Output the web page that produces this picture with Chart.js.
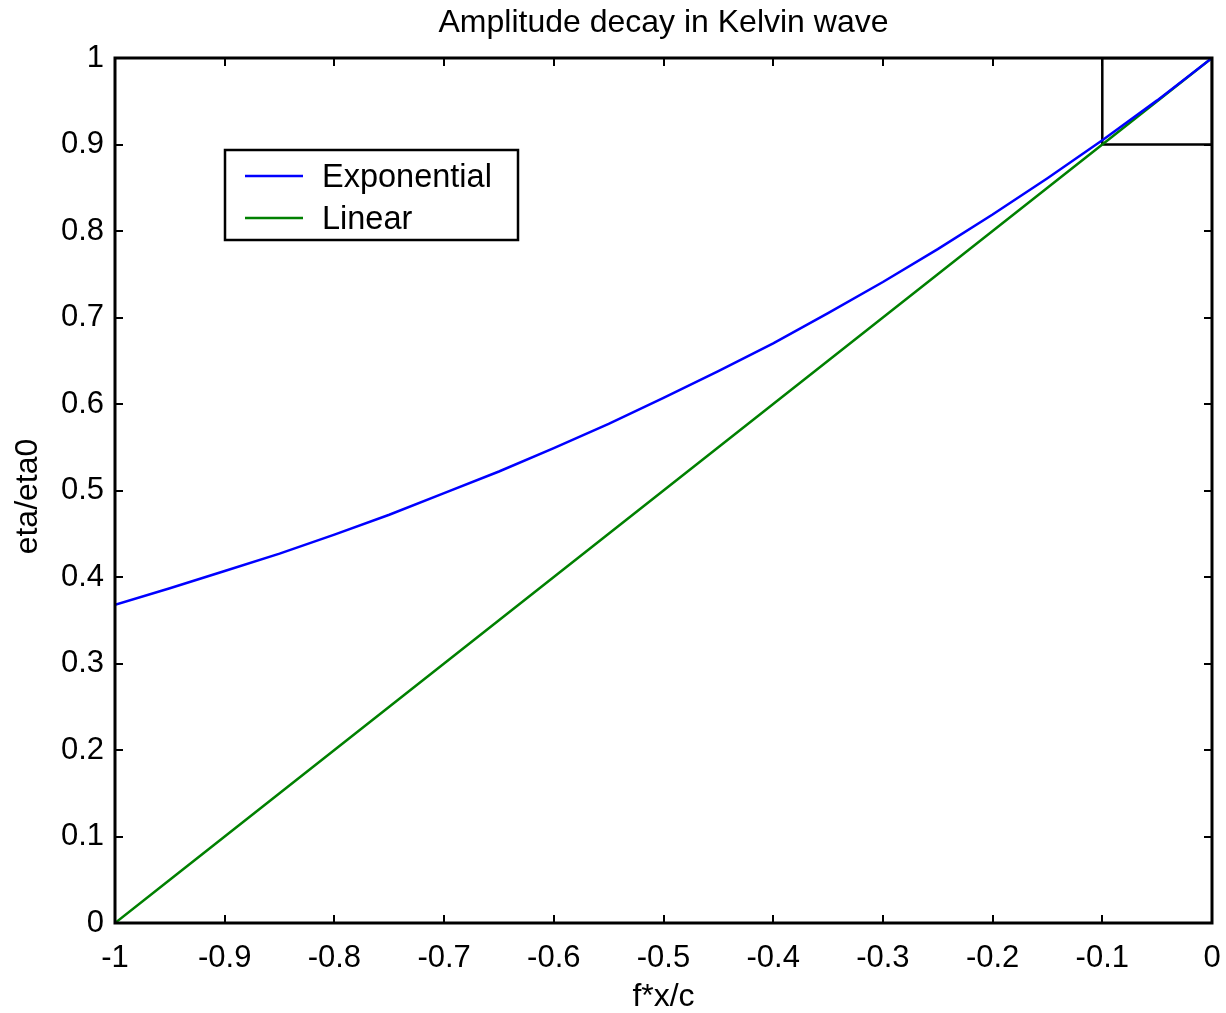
<!DOCTYPE html>
<html>
<head>
<meta charset="utf-8">
<script src="https://cdn.jsdelivr.net/npm/chart.js@4.4.1/dist/chart.umd.min.js"></script>
<style>
  html, body { margin: 0; padding: 0; background: #fff; }
  #wrap { width: 1226px; height: 1013px; }
</style>
</head>
<body>
<div id="wrap"><canvas id="c" width="1226" height="1013"></canvas></div>
<script>
// x positions (f*x/c)
const xValues = [-1, -0.95, -0.9, -0.85, -0.8, -0.75, -0.7, -0.65, -0.6, -0.55, -0.5,
                 -0.45, -0.4, -0.35, -0.3, -0.25, -0.2, -0.15, -0.1, -0.05, 0];
// Exponential curve
const expValues = [0.368, 0.387, 0.407, 0.427, 0.449, 0.472, 0.497, 0.522, 0.549, 0.577, 0.607,
                   0.638, 0.670, 0.705, 0.741, 0.779, 0.819, 0.861, 0.905, 0.951, 1.0];
// Linear line
const linValues = [0.0, 0.05, 0.1, 0.15, 0.2, 0.25, 0.3, 0.35, 0.4, 0.45, 0.5,
                   0.55, 0.6, 0.65, 0.7, 0.75, 0.8, 0.85, 0.9, 0.95, 1.0];
// zoom box in the top-right corner
const boxX = [-0.1, 0, 0, -0.1, -0.1];
const boxY = [0.9, 0.9, 1, 1, 0.9];
// tick labels
const xTicks = [-1, -0.9, -0.8, -0.7, -0.6, -0.5, -0.4, -0.3, -0.2, -0.1, 0];
const xTickLabels = ['-1', '-0.9', '-0.8', '-0.7', '-0.6', '-0.5', '-0.4', '-0.3', '-0.2', '-0.1', '0'];
const yTicks = [0, 0.1, 0.2, 0.3, 0.4, 0.5, 0.6, 0.7, 0.8, 0.9, 1];
const yTickLabels = ['0', '0.1', '0.2', '0.3', '0.4', '0.5', '0.6', '0.7', '0.8', '0.9', '1'];
const seriesNames = ['Exponential', 'Linear'];
const titleText = 'Amplitude decay in Kelvin wave';
const xTitle = 'f*x/c';
const yTitle = 'eta/eta0';

const FONT = "'Liberation Sans', Arial, Helvetica, sans-serif";

const toPts = (xs, ys) => xs.map((x, i) => ({ x: x, y: ys[i] }));

const framePlugin = {
  id: 'frame',
  afterDatasetsDraw(chart) {
    const { ctx, chartArea: a, scales } = chart;
    const xs = scales.x, ys = scales.y;
    ctx.save();
    ctx.strokeStyle = '#000';
    ctx.lineWidth = 2;
    const tl = 8;
    ctx.beginPath();
    xTicks.forEach(v => {
      const px = Math.round(xs.getPixelForValue(v));
      ctx.moveTo(px, a.bottom); ctx.lineTo(px, a.bottom - tl);
      ctx.moveTo(px, a.top); ctx.lineTo(px, a.top + tl);
    });
    yTicks.forEach(v => {
      const py = Math.round(ys.getPixelForValue(v));
      ctx.moveTo(a.left, py); ctx.lineTo(a.left + tl, py);
      ctx.moveTo(a.right, py); ctx.lineTo(a.right - tl, py);
    });
    ctx.stroke();
    ctx.lineWidth = 3;
    ctx.strokeRect(a.left, a.top, a.right - a.left, a.bottom - a.top);
    ctx.restore();
  },
  afterDraw(chart) {
    const { ctx, chartArea: a } = chart;
    ctx.save();
    // title, centred over the plot area
    ctx.fillStyle = '#000';
    ctx.font = '32px ' + FONT;
    ctx.textAlign = 'center';
    ctx.textBaseline = 'alphabetic';
    ctx.fillText(titleText, (a.left + a.right) / 2, 32);
    // y axis title
    ctx.save();
    ctx.translate(28, (a.top + a.bottom) / 2 + 6);
    ctx.rotate(-Math.PI / 2);
    ctx.textBaseline = 'middle';
    ctx.fillText(yTitle, 0, 0);
    ctx.restore();
    // legend
    const L = 225, T = 150, R = 518, B = 240;
    ctx.fillStyle = '#fff';
    ctx.fillRect(L, T, R - L, B - T);
    ctx.strokeStyle = '#000';
    ctx.lineWidth = 2.5;
    ctx.strokeRect(L, T, R - L, B - T);
    const rows = [176, 218];
    chart.data.datasets.slice(0, 2).forEach((ds, i) => {
      ctx.strokeStyle = ds.borderColor;
      ctx.lineWidth = 2.5;
      ctx.beginPath();
      ctx.moveTo(245, rows[i]); ctx.lineTo(303, rows[i]);
      ctx.stroke();
      ctx.fillStyle = '#000';
      ctx.font = '32.5px ' + FONT;
      ctx.textBaseline = 'middle';
      ctx.textAlign = 'left';
      ctx.fillText(ds.label, 322, rows[i] + 2);
    });
    ctx.restore();
  }
};

new Chart(document.getElementById('c'), {
  type: 'scatter',
  data: {
    datasets: [
      { label: seriesNames[0], data: toPts(xValues, expValues), showLine: true,
        borderColor: '#0000ff', borderWidth: 2.5, pointRadius: 0, tension: 0 },
      { label: seriesNames[1], data: toPts(xValues, linValues), showLine: true,
        borderColor: '#008000', borderWidth: 2.5, pointRadius: 0, tension: 0 },
      { label: 'box', data: toPts(boxX, boxY), showLine: true,
        borderColor: '#000', borderWidth: 2.5, pointRadius: 0, tension: 0 }
    ]
  },
  options: {
    responsive: false,
    animation: false,
    events: [],
    layout: { padding: { left: 0, right: 14, top: 58, bottom: 0 } },
    plugins: {
      legend: { display: false },
      tooltip: { enabled: false },
      title: { display: false }
    },
    scales: {
      x: {
        type: 'linear', min: -1, max: 0,
        afterBuildTicks: s => { s.ticks = xTicks.map(v => ({ value: v })); },
        afterFit: s => { s.height = 90; s.paddingLeft = 0; s.paddingRight = 0; },
        grid: { display: false, drawTicks: false },
        border: { display: false },
        ticks: {
          color: '#000', padding: 17, maxRotation: 0, autoSkip: false,
          font: { family: FONT, size: 31 },
          callback: (v) => xTickLabels[xTicks.indexOf(v)] ?? ''
        },
        title: {
          display: true, text: xTitle, color: '#000',
          font: { family: FONT, size: 32, lineHeight: 1 },
          padding: { top: 0, bottom: 0 }
        }
      },
      y: {
        type: 'linear', min: 0, max: 1,
        afterBuildTicks: s => { s.ticks = yTicks.map(v => ({ value: v })); },
        afterFit: s => { s.width = 115; s.paddingTop = 0; s.paddingBottom = 0; },
        grid: { display: false, drawTicks: false },
        border: { display: false },
        ticks: {
          color: '#000', padding: 11, autoSkip: false,
          font: { family: FONT, size: 31 },
          callback: (v) => yTickLabels[yTicks.indexOf(v)] ?? ''
        },
        title: { display: false }
      }
    }
  },
  plugins: [framePlugin]
});
</script>
</body>
</html>
